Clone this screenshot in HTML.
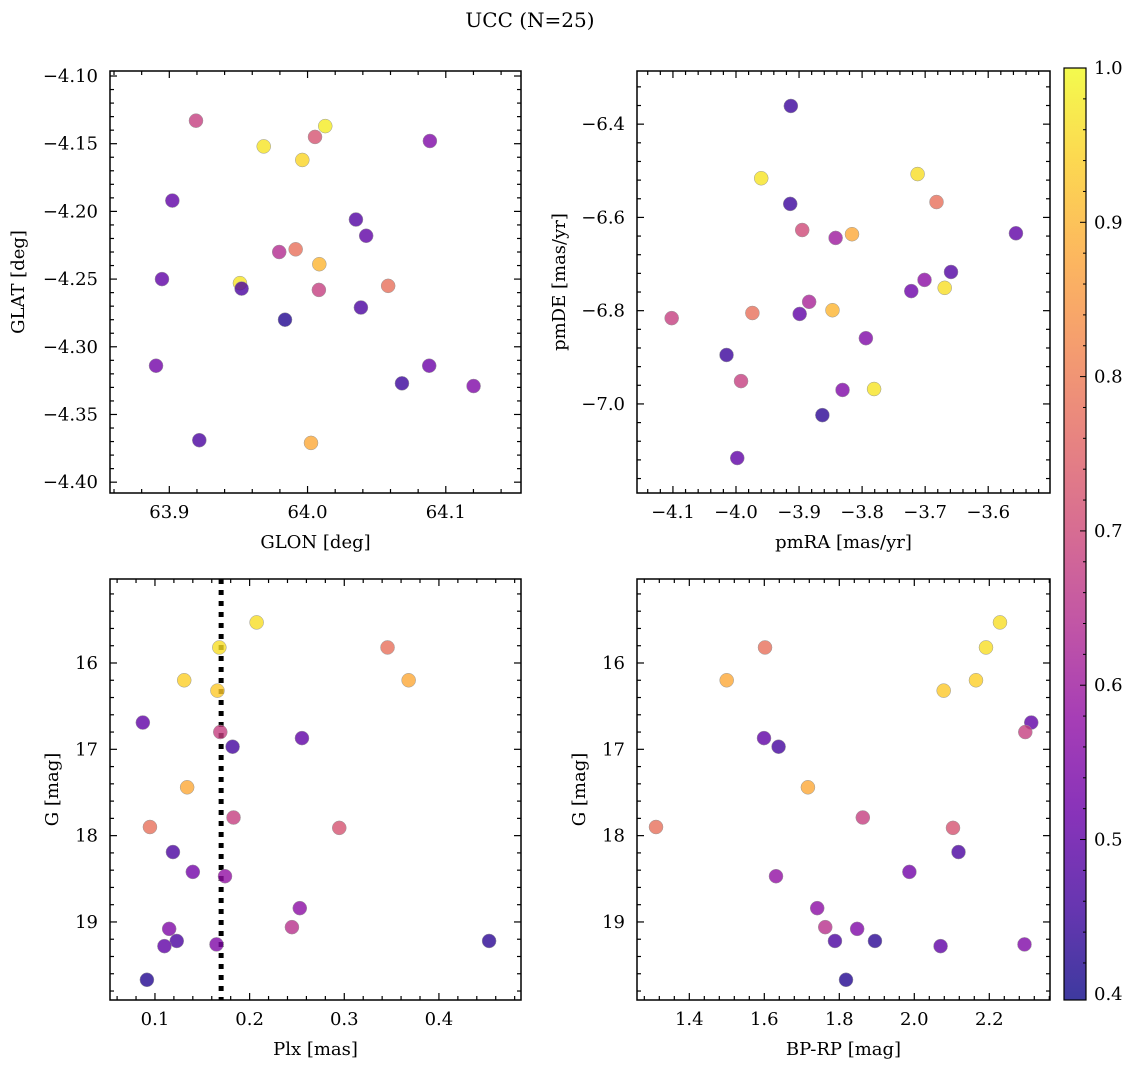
<!DOCTYPE html>
<html><head><meta charset="utf-8">
<style>
html,body{margin:0;padding:0;background:#fff;}
svg{display:block;font-family:"DejaVu Serif","Liberation Serif",serif;}
</style></head>
<body>
<svg id="fig" width="1136" height="1068">
<text x="530" y="27" font-size="20" text-anchor="middle">UCC (N=25)</text>
</svg>
<script>
// Panel data (per-panel points), prob = membership probability (colour)
const tlGlon=[63.9193,64.0885,64.0128,64.0054,63.9683,63.9962,63.9022,64.0350,64.0424,63.9795,63.9914,64.0085,63.8947,63.9511,63.9523,64.0583,64.0082,64.0386,63.9837,63.8904,64.0683,64.0880,64.1201,63.9217,64.0025];
const tlGlat=[-4.133,-4.148,-4.137,-4.145,-4.152,-4.162,-4.192,-4.206,-4.218,-4.230,-4.228,-4.239,-4.250,-4.253,-4.257,-4.255,-4.258,-4.271,-4.280,-4.314,-4.327,-4.314,-4.329,-4.369,-4.371];
const tlProb=[0.68,0.55,0.98,0.72,0.97,0.95,0.50,0.48,0.50,0.64,0.78,0.90,0.50,0.97,0.47,0.78,0.68,0.47,0.42,0.53,0.45,0.52,0.55,0.47,0.88];
const trPmra=[-3.913,-3.960,-3.712,-3.914,-3.682,-3.895,-3.842,-3.816,-3.556,-3.659,-3.701,-3.669,-3.722,-3.884,-3.974,-3.847,-3.899,-4.102,-3.794,-4.015,-3.992,-3.831,-3.781,-3.863,-3.998];
const trPmde=[-6.361,-6.516,-6.507,-6.571,-6.567,-6.627,-6.644,-6.636,-6.634,-6.717,-6.734,-6.751,-6.758,-6.781,-6.805,-6.799,-6.807,-6.816,-6.859,-6.895,-6.951,-6.970,-6.968,-7.024,-7.116];
const trProb=[0.45,0.97,0.96,0.45,0.78,0.70,0.60,0.88,0.50,0.48,0.57,0.96,0.52,0.62,0.78,0.90,0.50,0.68,0.55,0.45,0.68,0.55,0.97,0.43,0.50];
// Shared for bottom panels
const plx=[0.2074,0.1680,0.3457,0.1309,0.3680,0.1660,0.0872,0.1690,0.2553,0.1820,0.1340,0.1830,0.0947,0.2947,0.1190,0.1400,0.1740,0.2530,0.2447,0.1150,0.1230,0.4530,0.1100,0.1650,0.0915];
const gmag=[15.53,15.82,15.82,16.20,16.20,16.32,16.69,16.80,16.87,16.97,17.44,17.79,17.90,17.91,18.19,18.42,18.47,18.84,19.06,19.08,19.22,19.22,19.28,19.26,19.67];
const bprp=[2.2285,2.1912,1.6019,2.1645,1.4997,2.0784,2.3119,2.2960,1.5992,1.6381,1.7163,1.8627,1.3112,2.1032,2.1179,1.9869,1.6312,1.7411,1.7625,1.8476,1.7884,1.8951,2.0701,2.2939,1.8179];
const botProb=[0.96,0.96,0.78,0.94,0.88,0.93,0.50,0.68,0.50,0.46,0.88,0.68,0.78,0.72,0.47,0.53,0.58,0.57,0.65,0.55,0.47,0.43,0.50,0.55,0.42];
const plxLine=0.1699;
const cbTicks=[0.4,0.5,0.6,0.7,0.8,0.9,1.0];
const vmin=0.396, vmax=1.0;

const NS="http://www.w3.org/2000/svg";
const svg=document.getElementById('fig');
function mk(tag,attrs,parent){const e=document.createElementNS(NS,tag);for(const k in attrs)e.setAttribute(k,attrs[k]);(parent||svg).appendChild(e);return e;}
const plasma=[[13,8,135],[65,4,157],[106,0,168],[143,13,164],[177,42,144],[204,71,120],[225,100,98],[242,132,75],[252,166,54],[252,206,37],[240,249,33]];
function cmap(t){t=Math.max(0,Math.min(1,t));const f=t*10,i=Math.min(9,Math.floor(f)),r=f-i;const a=plasma[i],b=plasma[i+1];return `rgb(${Math.round(a[0]+(b[0]-a[0])*r)},${Math.round(a[1]+(b[1]-a[1])*r)},${Math.round(a[2]+(b[2]-a[2])*r)})`;}
function col(p){return cmap((p-vmin)/(vmax-vmin));}
function fmt(v,d){let s=v.toFixed(d);return s.replace('-','\u2212');}

function panel(o){
  const g=mk('g',{});
  
  
  const X=v=>o.x0+(v-o.xd[0])/(o.xd[1]-o.xd[0])*(o.x1-o.x0);
  const Y=v=>o.y1-(v-o.yd[0])/(o.yd[1]-o.yd[0])*(o.y1-o.y0);
  const lo=o.xd[0],hi=o.xd[1];
  for(let k=Math.ceil(lo/o.xmin-1e-6);k*o.xmin<=hi+1e-9;k++){const v=k*o.xmin;const px=X(v);
    const major=Math.abs(v/o.xmaj-Math.round(v/o.xmaj))<1e-6;const L=major?7:4;
    mk('line',{x1:px,x2:px,y1:o.y1,y2:o.y1-L,stroke:'#000','stroke-width':1.2},g);
    mk('line',{x1:px,x2:px,y1:o.y0,y2:o.y0+L,stroke:'#000','stroke-width':1.2},g);
    if(major&&px<o.x1-3){const t=mk('text',{x:px,y:o.y1+25,'font-size':18,'text-anchor':'middle'},g);t.textContent=fmt(v,o.xdec);}
  }
  const ylo=o.yd[0],yhi=o.yd[1];
  for(let k=Math.ceil(ylo/o.ymin-1e-6);k*o.ymin<=yhi+1e-9;k++){const v=k*o.ymin;const py=Y(v);
    const major=Math.abs(v/o.ymaj-Math.round(v/o.ymaj))<1e-6;const L=major?7:4;
    mk('line',{x1:o.x0,x2:o.x0+L,y1:py,y2:py,stroke:'#000','stroke-width':1.2},g);
    mk('line',{x1:o.x1,x2:o.x1-L,y1:py,y2:py,stroke:'#000','stroke-width':1.2},g);
    if(major){const t=mk('text',{x:o.x0-12,y:py+6,'font-size':18,'text-anchor':'end'},g);t.textContent=o.neg?fmt(-v,o.ydec):fmt(v,o.ydec);}
  }
  if(o.vline!==undefined){const l=mk('line',{x1:X(o.vline),x2:X(o.vline),y1:o.y0,y2:o.y1,stroke:'#000','stroke-width':5,'stroke-dasharray':'5 6'},g);
    
    }
  for(let i=0;i<o.xs.length;i++){
    const c=mk('circle',{cx:X(o.xs[i]),cy:Y(o.ys[i]),r:7,fill:col(o.ps[i]),'fill-opacity':0.8,stroke:'#999','stroke-width':0.5},g);
    
    
  }
  mk('rect',{x:o.x0,y:o.y0,width:o.x1-o.x0,height:o.y1-o.y0,fill:'none',stroke:'#000','stroke-width':1.5},g);
  const xl=mk('text',{x:(o.x0+o.x1)/2,y:o.y1+55,'font-size':18,'text-anchor':'middle'},g);xl.textContent=o.xlab;
  
  
  const yl=mk('text',{x:o.ylx,y:(o.y0+o.y1)/2,'font-size':18,'text-anchor':'middle',transform:`rotate(-90 ${o.ylx} ${(o.y0+o.y1)/2})`},g);yl.textContent=o.ylab;
  
  
}
panel({name:'glon-glat-panel',x0:110,x1:521,y0:71,y1:493,xd:[63.8571,64.1544],yd:[-4.408,-4.0963],xmaj:0.1,xmin:0.02,ymaj:0.05,ymin:0.01,xdec:1,ydec:2,xs:tlGlon,ys:tlGlat,ps:tlProb,xlab:'GLON [deg]',ylab:'GLAT [deg]',ylx:24});
panel({name:'pm-panel',x0:637,x1:1050,y0:71,y1:493,xd:[-4.157,-3.502],yd:[-7.191,-6.286],xmaj:0.1,xmin:0.02,ymaj:0.2,ymin:0.04,xdec:1,ydec:1,xs:trPmra,ys:trPmde,ps:trProb,xlab:'pmRA [mas/yr]',ylab:'pmDE [mas/yr]',ylx:565});
panel({name:'plx-g-panel',x0:110,x1:521,y0:579,y1:1000,xd:[0.0525,0.4867],yd:[-19.904,-15.027],xmaj:0.1,xmin:0.02,ymaj:1,ymin:0.2,xdec:1,ydec:0,neg:true,xs:plx,ys:gmag.map(v=>-v),ps:botProb,xlab:'Plx [mas]',ylab:'G [mag]',ylx:58,vline:plxLine});
panel({name:'color-g-panel',x0:637,x1:1050,y0:579,y1:1000,xd:[1.2605,2.3619],yd:[-19.904,-15.027],xmaj:0.2,xmin:0.04,ymaj:1,ymin:0.2,xdec:1,ydec:0,neg:true,xs:bprp,ys:gmag.map(v=>-v),ps:botProb,xlab:'BP-RP [mag]',ylab:'G [mag]',ylx:585});
// colorbar
const cb=mk('g',{});


const defs=mk('defs',{});const lg=mk('linearGradient',{id:'pl',x1:0,y1:1,x2:0,y2:0},defs);
for(let i=0;i<=10;i++)mk('stop',{offset:i/10,'stop-color':cmap(i/10),'stop-opacity':0.8},lg);
const cy0=68,cy1=1000;
mk('rect',{x:1064,y:cy0,width:22,height:cy1-cy0,fill:'url(#pl)',stroke:'#000','stroke-width':1.2},cb);
const CY=v=>cy1-(v-vmin)/(vmax-vmin)*(cy1-cy0);
for(let v=0.42;v<=1.0001;v+=0.02){const py=CY(v);const maj=Math.abs(v*10-Math.round(v*10))<1e-6;
  mk('line',{x1:1086,x2:1086-(maj?6:3),y1:py,y2:py,stroke:'#000','stroke-width':1},cb);}
cbTicks.forEach(v=>{const t=mk('text',{x:1094,y:CY(v)+6,'font-size':18},cb);t.textContent=v.toFixed(1);});
</script>
</body></html>
